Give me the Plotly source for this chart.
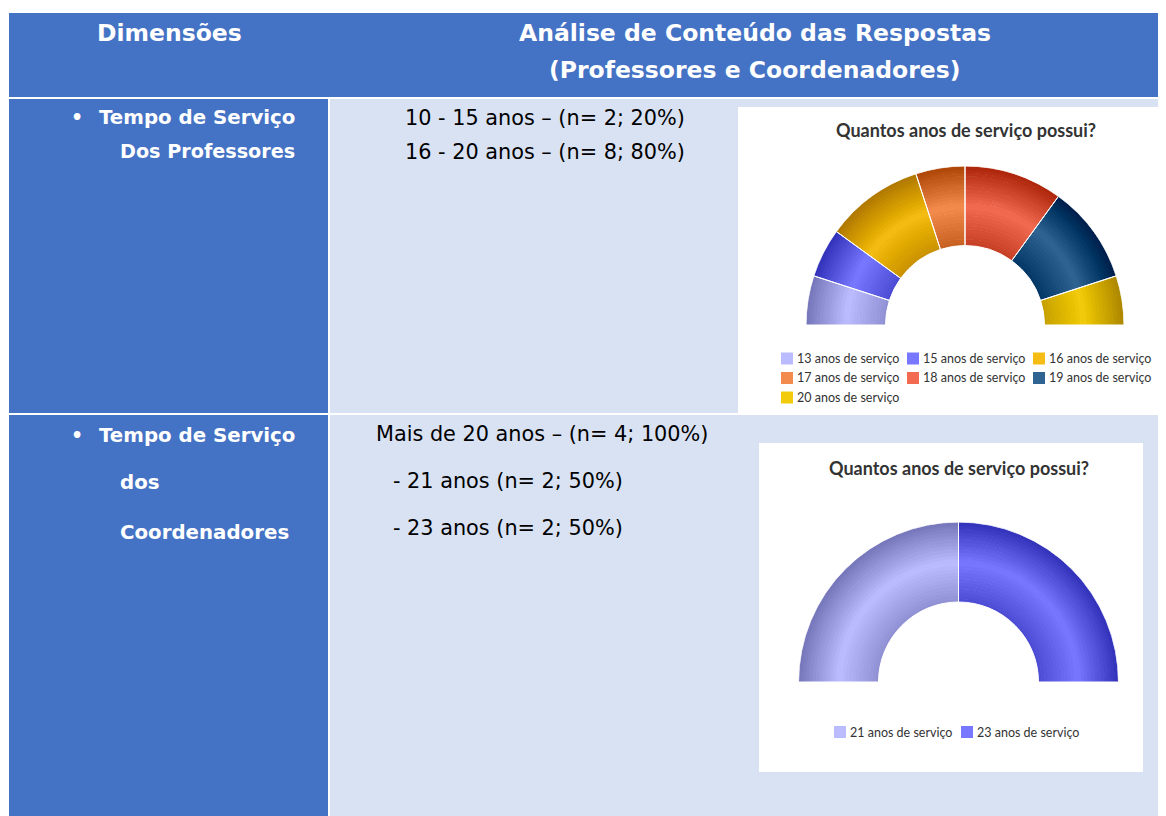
import plotly.graph_objects as go

# page has an 8px body margin, so the figure is drawn 8px in from the top-left
OFF = 8
W, H = 1166 - OFF, 816 - OFF

# ---------------- data ----------------
header_left = "Dimensões"
header_right = ["Análise de Conteúdo das Respostas", "(Professores e Coordenadores)"]

dim_prof = ["Tempo de Serviço", "Dos Professores"]
dim_coord = ["Tempo de Serviço", "dos", "Coordenadores"]
resp_prof = ["10 - 15 anos – (n= 2; 20%)", "16 - 20 anos – (n= 8; 80%)"]
resp_coord = ["Mais de 20 anos – (n= 4; 100%)", "- 21 anos (n= 2; 50%)", "- 23 anos (n= 2; 50%)"]

chart_title = "Quantos anos de serviço possui?"

prof_labels = ["13 anos de serviço", "15 anos de serviço", "16 anos de serviço",
               "17 anos de serviço", "18 anos de serviço", "19 anos de serviço",
               "20 anos de serviço"]
prof_counts = [1, 1, 2, 1, 2, 2, 1]
prof_colors = ["#BBBBFF", "#7777FF", "#F5BD14", "#F28B4C", "#F26B50", "#2F6391", "#F2CC0C"]

coord_labels = ["21 anos de serviço", "23 anos de serviço"]
coord_counts = [2, 2]
coord_colors = ["#BBBBFF", "#7777FF"]

# ---------------- styles ----------------
BLUE = "#4472C4"
LIGHT = "#D9E2F3"
TABLE_FONT = "DejaVu Sans"
CHART_FONT = "Lato"
HOLE = 0.5
N_RINGS = 24


def X(px):
    return (px - OFF) / W


def Y(py):
    return 1 - (py - OFF) / H


def shade(hex_color, amount):
    h = hex_color.lstrip("#")
    r, g, b = (int(h[i:i + 2], 16) for i in (0, 2, 4))
    return "rgb({},{},{})".format(max(r - amount, 0), max(g - amount, 0), max(b - amount, 0))


def ring_profile():
    # radial gradient: light band in the middle of the ring, darker edges
    rings = []
    step = (1 - HOLE) / N_RINGS
    for k in range(N_RINGS):
        t = (k + 0.5) / N_RINGS
        amt = int(45 * (0.5 - t) / 0.5) if t < 0.5 else int(70 * (t - 0.5) / 0.5)
        ov = 0 if k == 0 else 0.004
        rings.append((amt, HOLE + k * step - ov, step + ov))
    return rings


fig = go.Figure()

# table cells
cells = [
    (9, 13, 1166, 97, BLUE),
    (9, 99, 328, 413, BLUE),
    (330, 99, 1166, 413, LIGHT),
    (9, 415, 328, 816, BLUE),
    (330, 415, 1166, 816, LIGHT),
    (738, 107, 1166, 413, "white"),
    (759, 443, 1143, 772, "white"),
]
shapes = [dict(type="rect", xref="paper", yref="paper", x0=X(a), x1=X(c), y0=Y(d), y1=Y(b),
               fillcolor=col, line=dict(width=0), layer="below") for a, b, c, d, col in cells]

annotations = []


def text(s, x, y, size, color, bold=False, anchor="left", family=TABLE_FONT):
    annotations.append(dict(text=s, x=X(x), y=Y(y), xref="paper", yref="paper",
                            xanchor=anchor, yanchor="middle", showarrow=False,
                            font=dict(family=family, size=size, color=color,
                                      weight="bold" if bold else "normal")))


# header
text(header_left, 169, 33, 23.5, "white", True, "center")
text(header_right[0], 755, 33, 23.5, "white", True, "center")
text(header_right[1], 755, 70, 23.5, "white", True, "center")

# row 1
text("•", 77, 117, 19, "white", True, "center")
text(dim_prof[0], 97, 117, 19.8, "white", True)
text(dim_prof[1], 118, 152, 19.2, "white", True)
text(resp_prof[0], 403, 118, 20.8, "black")
text(resp_prof[1], 403, 152, 20.8, "black")

# row 2
text("•", 77, 435, 19, "white", True, "center")
text(dim_coord[0], 97, 435, 19.8, "white", True)
text(dim_coord[1], 118, 482, 19.8, "white", True)
text(dim_coord[2], 118, 532, 19.8, "white", True)
text(resp_coord[0], 374, 434, 20.8, "black")
text(resp_coord[1], 391, 481, 20.8, "black")
text(resp_coord[2], 391, 528, 20.8, "black")

# chart titles
text(chart_title, 966, 130, 18, "#333333", True, "center", CHART_FONT)
text(chart_title, 959, 468, 18, "#333333", True, "center", CHART_FONT)


def add_half_donut(labels, counts, colors, subplot):
    total = sum(counts)
    rings = ring_profile()
    start = 0
    thetas, widths = [], []
    for lab, cnt, col in zip(labels, counts, colors):
        th = (start + cnt / 2) / total * 180
        wd = cnt / total * 180
        start += cnt
        thetas.append(th)
        widths.append(wd)
        fig.add_trace(go.Barpolar(
            r=[z[2] for z in rings], base=[z[1] for z in rings],
            theta=[th] * len(rings), width=[wd] * len(rings),
            marker=dict(color=[shade(col, z[0]) for z in rings], line=dict(width=0)),
            name=lab, subplot=subplot, showlegend=False, hoverinfo="name",
        ))
    # thin white separators between slices
    fig.add_trace(go.Barpolar(
        r=[1 - HOLE] * len(thetas), base=[HOLE] * len(thetas), theta=thetas, width=widths,
        marker=dict(color="rgba(0,0,0,0)", line=dict(color="white", width=1)),
        subplot=subplot, showlegend=False, hoverinfo="skip",
    ))


def add_legend(labels, colors, x0, y0, dx, dy, ncols):
    # Highcharts-like legend grid: square swatch + label
    for i, (lab, col) in enumerate(zip(labels, colors)):
        x = x0 + (i % ncols) * dx
        y = y0 + (i // ncols) * dy
        shapes.append(dict(type="rect", xref="paper", yref="paper",
                           x0=X(x), x1=X(x + 12), y0=Y(y + 6), y1=Y(y - 6),
                           fillcolor=col, line=dict(width=0)))
        text(lab, x + 14, y, 12.5, "#333333", False, "left", CHART_FONT)


add_half_donut(prof_labels, prof_counts, prof_colors, "polar")
add_half_donut(coord_labels, coord_counts, coord_colors, "polar2")
add_legend(prof_labels, prof_colors, 781, 358.5, 126, 19.5, 3)
add_legend(coord_labels, coord_colors, 834, 732, 127, 0, 2)


def polar(cx, cy, R):
    return dict(domain=dict(x=[X(cx - R), X(cx + R)], y=[Y(cy), Y(cy - R)]),
                sector=[0, 180], hole=0, bgcolor="rgba(0,0,0,0)",
                radialaxis=dict(visible=False, range=[0, 1]),
                angularaxis=dict(visible=False, direction="clockwise", rotation=180))


fig.update_layout(
    width=W, height=H, margin=dict(l=0, r=0, t=0, b=0),
    paper_bgcolor="white", plot_bgcolor="rgba(0,0,0,0)", template="none",
    polar=polar(965, 325, 159), polar2=polar(958.5, 682, 160),
    showlegend=False, shapes=shapes, annotations=annotations,
)

fig.write_html("out.html")
